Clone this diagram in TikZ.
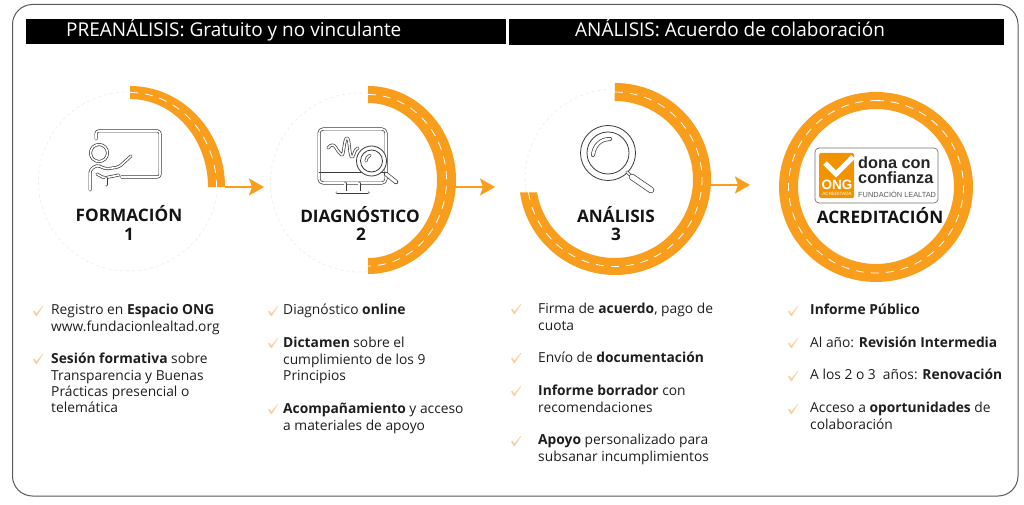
\documentclass[tikz,border=0pt]{standalone}
\usepackage{fontspec}
\setmainfont{Open Sans}
\newfontfamily\logofont{Liberation Sans}
\usetikzlibrary{arrows.meta}
\definecolor{ora}{HTML}{F99D1C}
\definecolor{logoora}{HTML}{F39200}
\definecolor{chk}{HTML}{FAD09A}
\definecolor{ink}{HTML}{1E1E1E}
\definecolor{icon}{HTML}{3A3A3A}
\newcommand{\ringpath}[8]{%
 % cxo cyo rxo ryo cxi cyi rxi ryi ; from/to in \rfrom \rto \rtoi
 \fill[ora] plot[domain=\rfrom:\rto,samples=90] ({#1+#3*cos(\x)},{#2+#4*sin(\x)})
   -- plot[domain=\rtoi:\rfrom,samples=90] ({#5+#7*cos(\x)},{#6+#8*sin(\x)}) -- cycle;
 \draw[white,line width=.8pt,dash pattern=on 8pt off 7pt]
   plot[domain=\rfrom:\rto,samples=90] ({(#1+#5)/2+(#3+#7)/2*cos(\x)},{(#2+#6)/2+(#4+#8)/2*sin(\x)});
}
\tikzset{
 x=1pt,y=-1pt,
 bar/.style={fill=black,draw=none},
 bartext/.style={text=white,font=\fontsize{19}{22}\selectfont,anchor=base west,inner sep=0pt},
 title/.style={text=black!92,font=\bfseries\fontsize{17.2}{20}\selectfont,inner sep=0pt,anchor=base},
 item/.style={text=ink,font=\fontsize{13.8}{16.4}\selectfont,align=left,anchor=north west,inner sep=0pt},
 flow/.style={ora,line width=1.8pt,-{Stealth[length=15pt,width=17pt,inset=3pt]}},
 guide/.style={draw=black!8,line width=.6pt,dashed},
 ic/.style={draw=icon,double=white,line width=.7pt,double distance=1.6pt,line cap=round,line join=round},
 icthin/.style={draw=icon,line width=.8pt,line cap=round,line join=round},
}
\newcommand{\tick}[2]{\fill[chk,shift={(#1,#2)}] (-5,0.5) -- (-3.6,-0.2) -- (-1.6,2.6) -- (4.6,-5) -- (5,-4.6) -- (-1.2,5) -- (-2.2,5) -- cycle;}
\begin{document}
\begin{tikzpicture}
\useasboundingbox (0,0) rectangle (1024,505);
\fill[white] (0,0) rectangle (1024,505);
\draw[draw=black!65,line width=1pt,rounded corners=20pt] (12.5,4.5) rectangle (1018,496);
% header
\fill[bar] (25.5,19) rectangle (505.5,44.5);
\fill[bar] (509,19) rectangle (1004,45);
\node[bartext] (h1) at (66,36.5) {PREANÁLISIS: Gratuito y no vinculante};
\node[bartext] (h2) at (575,36.5) {ANÁLISIS: Acuerdo de colaboración};
% guides
\draw[guide] (128,181.5) circle[radius=89.5pt];
\draw[guide] (360,182.5) circle[radius=89.5pt];
\draw[guide] (615,179) circle[radius=90pt];
% rings
\def\rfrom{-90}\def\rto{0}\def\rtoi{0}
\ringpath{130}{187}{95}{101}{130}{187}{78}{88}
\def\rfrom{-90}\def\rto{90}\def\rtoi{90}
\ringpath{368}{180}{88}{94}{368}{180.5}{69}{77.5}
\def\rfrom{-90}\def\rto{172}\def\rtoi{170.5}
\ringpath{615}{179}{96}{96}{614.5}{179.5}{78.5}{78.5}
\def\rfrom{-90}\def\rto{270}\def\rtoi{270}
\ringpath{876}{187}{97}{95}{876}{186.5}{78}{77.5}
% connectors
\coordinate (s1) at (225,187); \coordinate (e1) at (264,187);
\coordinate (s2) at (456,187); \coordinate (e2) at (495,187);
\coordinate (s3) at (711,185); \coordinate (e3) at (750,185);
\draw[flow] (s1) -- (e1);
\draw[flow] (s2) -- (e2);
\draw[flow] (s3) -- (e3);
% teacher icon
\draw[ic,rounded corners=2.5pt] (96,139) -- (96,131) -- (160,131) -- (160,177) -- (121,177);
\draw[ic] (99,153) circle[radius=8.5pt];
\draw[ic,rounded corners=3pt] (90,190) -- (90,170) -- (97,165) -- (106,169) -- (119,167) -- (131,156);
\draw[ic,rounded corners=2pt] (97,174) -- (104,178) -- (119,175);
\draw[ic] (106,178) -- (106,185);
% monitor icon
\draw[ic,rounded corners=4pt] (319,129) rectangle (386,183);
\draw[icthin] (319,172) -- (386,172);
\draw[ic] (345,183) -- (345,191);
\draw[ic] (359,183) -- (359,191);
\draw[ic] (337,192) -- (368,192);
\draw[ic] (328,148) .. controls (331,144) and (334,144) .. (336,148) .. controls (338,151) and (340,154) .. (342,155)
  .. controls (344,155) and (344,138) .. (347,138) .. controls (350,138) and (349,157) .. (352,157)
  .. controls (354,157) and (354,149) .. (358,148);
\draw[draw=icon,fill=white,line width=.8pt] (371.5,161) circle[radius=15pt];
\draw[draw=icon,fill=white,line width=.8pt] (371.5,161) circle[radius=11pt];
\draw[ic] (366,161) arc[start angle=180,end angle=110,radius=6pt];
\draw[ic,double distance=3pt] (386,174) -- (396,182);
% magnifier icon
\draw[draw=icon,fill=white,line width=.8pt] (608,153) circle[radius=27.5pt];
\draw[draw=icon,fill=white,line width=.8pt] (608,153) circle[radius=21pt];
\draw[ic,double distance=2.6pt] (610,139) .. controls (600,139) and (594,146) .. (593,155);
\draw[ic] (627,172) -- (631,176);
\draw[ic,double distance=5pt] (632,177) -- (651,190);
% titles
\node[title] (t1) at (129,221) {FORMACIÓN};
\node[title] (n1) at (129,240) {1};
\node[title] (t2) at (360,222) {DIAGNÓSTICO};
\node[title] (n2) at (361,240) {2};
\node[title] (t3) at (616,222) {ANÁLISIS};
\node[title] (n3) at (616,240) {3};
\node[title] (t4) at (880,223) {ACREDITACIÓN};
% logo
\draw[draw=black!55,fill=white,line width=.7pt,rounded corners=4pt] (815,148) rectangle (938,203);
\fill[logoora,rounded corners=1.5pt] (819,153) rectangle (854,198);
\draw[white,line width=5pt] (825,163) -- (836,174) -- (853,157);
\node[text=white,font=\logofont\bfseries\fontsize{13.5}{14}\selectfont,inner sep=0pt] (l1) at (837,185) {ONG};
\node[text=white,font=\logofont\fontsize{4.6}{5}\selectfont,inner sep=0pt] (l2) at (837,194) {ACREDITADA};
\node[text=black!85,font=\logofont\bfseries\fontsize{16.3}{18}\selectfont,anchor=base west,inner sep=0pt] (l3) at (858,168) {dona con};
\node[text=black!85,font=\logofont\bfseries\fontsize{16.3}{18}\selectfont,anchor=base west,inner sep=0pt] (l4) at (858,183.5) {confianza};
\node[text=black!65,font=\logofont\fontsize{7.4}{8}\selectfont,anchor=base west,inner sep=0pt] (l5) at (858,197) {FUNDACIÓN LEALTAD};
% column 1
\tick{38}{311}\tick{38}{359}
\node[item] (a1) at (51,304) {Registro en \textbf{Espacio ONG}\\www.fundacionlealtad.org};
\node[item] (a2) at (51,353) {\textbf{Sesión formativa} sobre\\Transparencia y Buenas\\Prácticas presencial o\\telemática};
% column 2
\tick{273}{311}\tick{273}{343}\tick{273}{409}
\node[item] (b1) at (283,304) {Diagnóstico \textbf{online}};
\node[item] (b2) at (283,337) {\textbf{Dictamen} sobre el\\cumplimiento de los 9\\Principios};
\node[item] (b3) at (283,403) {\textbf{Acompañamiento} y acceso\\a materiales de apoyo};
% column 3
\tick{516}{309}\tick{516}{358}\tick{516}{391}\tick{516}{441}
\node[item] (c1) at (538,303) {Firma de \textbf{acuerdo}, pago de\\cuota};
\node[item] (c2) at (538,352) {Envío de \textbf{documentación}};
\node[item] (c3) at (538,385) {\textbf{Informe borrador} con\\recomendaciones};
\node[item] (c4) at (538,434) {\textbf{Apoyo} personalizado para\\subsanar incumplimientos};
% column 4
\tick{793}{311}\tick{793}{343}\tick{793}{376}\tick{793}{409}
\node[item] (d1) at (810,304) {\textbf{Informe Público}};
\node[item] (d2) at (810,337) {Al año: \textbf{Revisión Intermedia}};
\node[item] (d3) at (810,369) {A los 2 o 3~ años: \textbf{Renovación}};
\node[item] (d4) at (810,402) {Acceso a \textbf{oportunidades} de\\colaboración};
\end{tikzpicture}
\end{document}
